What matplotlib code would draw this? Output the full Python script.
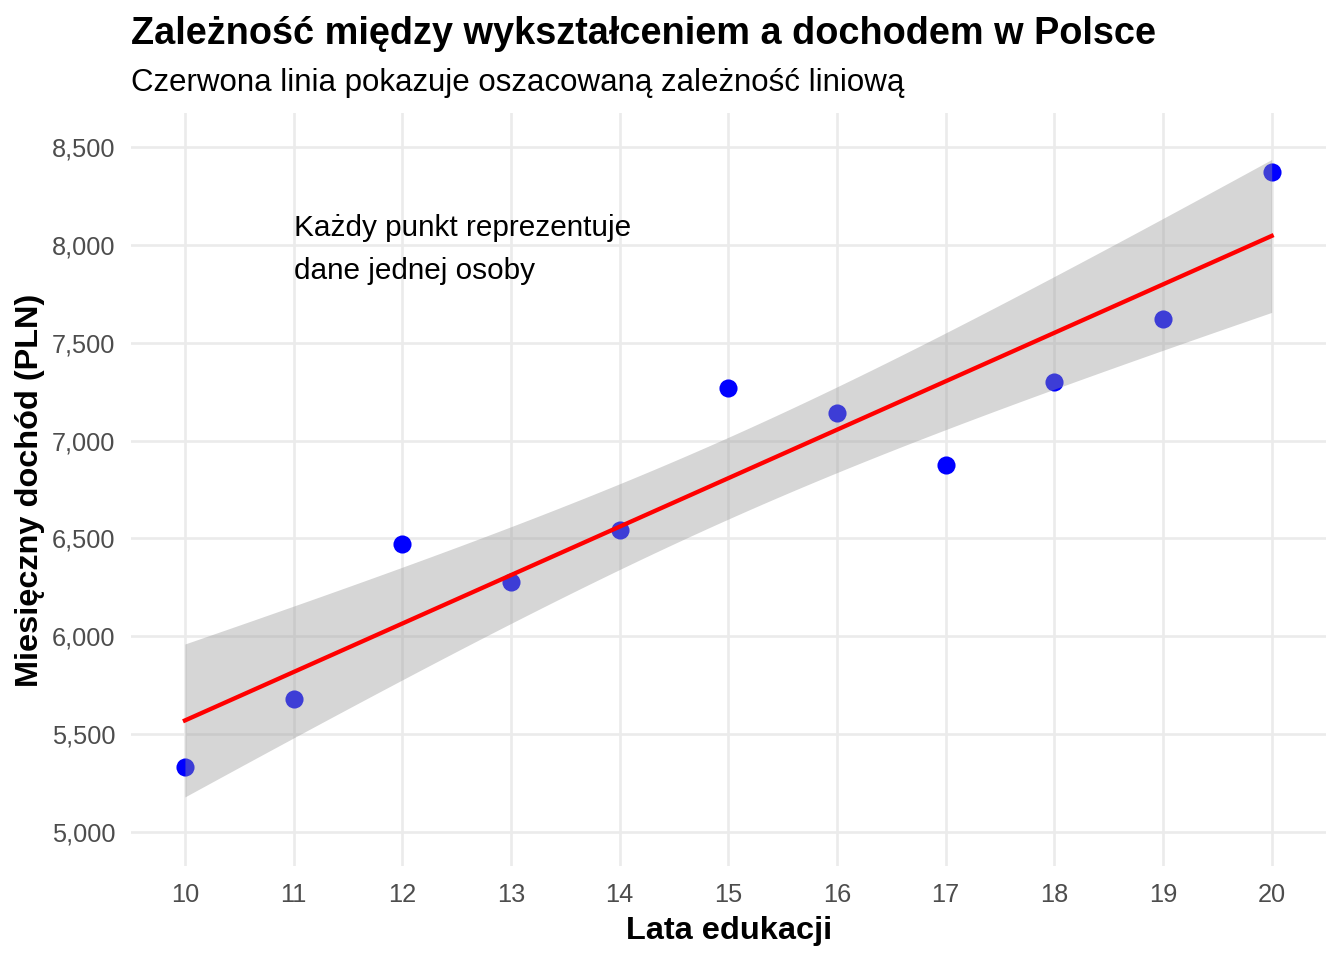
import numpy as np
import matplotlib.pyplot as plt
from matplotlib.ticker import StrMethodFormatter

# dane
lata = [10, 11, 12, 13, 14, 15, 16, 17, 18, 19, 20]
dochod = [5333, 5681, 6471, 6276, 6542, 7270, 7142, 6875, 7301, 7623, 8372]
x_ticks = [10, 11, 12, 13, 14, 15, 16, 17, 18, 19, 20]
y_ticks = [5000, 5500, 6000, 6500, 7000, 7500, 8000, 8500]

plt.rcParams['font.family'] = ['Liberation Sans', 'DejaVu Sans']

x = np.array(lata, dtype=float)
y = np.array(dochod, dtype=float)

# regresja liniowa + 95% przedział ufności
b, a = np.polyfit(x, y, 1)
xs = np.linspace(x.min(), x.max(), 80)
fit = a + b * xs
n = len(x)
resid = y - (a + b * x)
s = np.sqrt(np.sum(resid ** 2) / (n - 2))
se = s * np.sqrt(1 / n + (xs - x.mean()) ** 2 / np.sum((x - x.mean()) ** 2))
t = 2.262  # t(0.975, df=9)

W, H = 1344, 960
fig = plt.figure(figsize=(W / 100, H / 100), dpi=100)
ax = fig.add_axes([130.6 / W, 1 - 866 / H, (1326 - 130.6) / W, (866 - 113) / H])

ax.scatter(x, y, s=170, color='blue', zorder=2, linewidths=0)
ax.fill_between(xs, fit - t * se, fit + t * se, color='#999999', alpha=0.4,
                linewidth=0, zorder=3)
ax.plot(xs, fit, color='red', linewidth=3.1, zorder=4)

ax.text(11, 7975, 'Każdy punkt reprezentuje\ndane jednej osoby', ha='left',
        va='center', fontsize=21.4, linespacing=1.68, color='black')

ax.set_xlim(9.5, 20.5)
ax.set_ylim(5000 - 175, 8500 + 175)
ax.set_xticks(x_ticks)
ax.set_yticks(y_ticks)
ax.yaxis.set_major_formatter(StrMethodFormatter('{x:,.0f}'))
ax.tick_params(length=0, labelsize=18.3, labelcolor='#4d4d4d')
ax.tick_params(axis='x', pad=12)
ax.tick_params(axis='y', pad=11)
for sp in ax.spines.values():
    sp.set_visible(False)
ax.grid(True, color='#ebebeb', linewidth=1.9)
ax.set_axisbelow(True)

fig.text(131 / W, 1 - 44 / H, 'Zależność między wykształceniem a dochodem w Polsce',
         fontsize=27.3, fontweight='bold', va='baseline', ha='left')
fig.text(131 / W, 1 - 91 / H, 'Czerwona linia pokazuje oszacowaną zależność liniową',
         fontsize=22.5, va='baseline', ha='left')
fig.text(729 / W, 1 - 939 / H, 'Lata edukacji', fontsize=23.4, fontweight='bold',
         va='baseline', ha='center')
fig.text(30 / W, 1 - 490 / H, 'Miesięczny dochód (PLN)', fontsize=23.4,
         fontweight='bold', rotation=90, va='center', ha='center')

fig.savefig('out.png', dpi=100)
